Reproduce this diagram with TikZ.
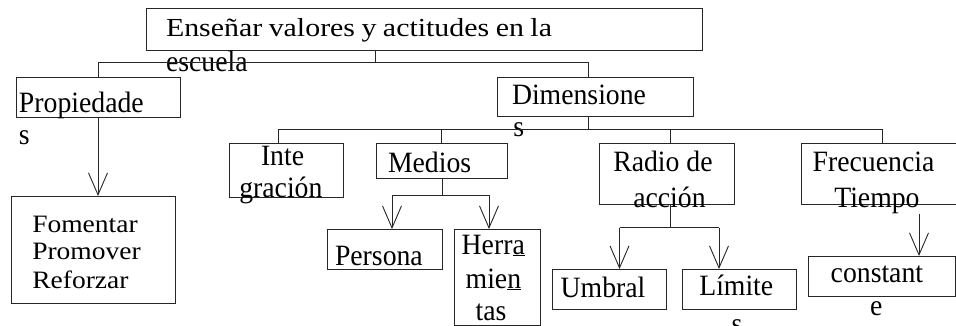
\documentclass[tikz,border=0pt]{standalone}
\usepackage{fontspec}
\setmainfont{Liberation Serif}[FakeStretch=0.94]
\newfontfamily\widefont{Liberation Serif}[FakeStretch=1.1]
\newfontfamily\topfont{Liberation Serif}[FakeStretch=1.15]
\usetikzlibrary{arrows.meta}
\tikzset{
  box/.style={draw=black!85, line width=0.9pt, inner sep=0pt, outer sep=0pt, anchor=north west},
  txt/.style={anchor=base west, inner sep=0pt, outer sep=0pt, font=\fontsize{29.5}{32}\selectfont},
  toptxt/.style={txt, font=\topfont\fontsize{26}{30}\selectfont},
  fomtxt/.style={txt, font=\widefont\fontsize{25}{28}\selectfont},
  conn/.style={draw=black!85, line width=0.9pt},
  arr/.style={conn, -{Straight Barb[length=22pt,width=19pt]}},
}
\begin{document}
\begin{tikzpicture}[x=1pt,y=-1pt]
\useasboundingbox (0,0) rectangle (956,326);
\begin{scope}
\clip (0,0) rectangle (956,326);
% boxes
\node[box, minimum width=556pt, minimum height=42pt] (top) at (146,8) {};
\node[box, minimum width=164pt, minimum height=40pt] (prop) at (16,77) {};
\node[box, minimum width=196pt, minimum height=39pt] (dim) at (497,77) {};
\node[box, minimum width=164pt, minimum height=107pt] (fom) at (11,196) {};
\node[box, minimum width=114pt, minimum height=54pt] (integ) at (229,143) {};
\node[box, minimum width=131pt, minimum height=35pt] (medios) at (376,143) {};
\node[box, minimum width=135pt, minimum height=61pt] (radio) at (599,143) {};
\node[box, minimum width=170pt, minimum height=61pt] (frec) at (801,143) {};
\node[box, minimum width=115pt, minimum height=40pt] (persona) at (327,229) {};
\node[box, minimum width=86pt, minimum height=96pt] (herr) at (454,229) {};
\node[box, minimum width=113.5pt, minimum height=40pt] (umbral) at (552.5,269) {};
\node[box, minimum width=114.5pt, minimum height=40pt] (limites) at (682,269) {};
\node[box, minimum width=147pt, minimum height=40pt] (const) at (808,256) {};
% texts
\node[toptxt] (t1) at (166,36.7) {\makebox[386pt][s]{Enseñar valores y actitudes en la}};
\node[txt] (t2) at (166,71.5) {escuela};
\node[txt] (t3) at (19,112.7) {Propiedade};
\node[txt] (t4) at (19,145) {s};
\node[txt] (t5) at (512,105) {Dimensione};
\node[txt] (t6) at (513.3,136.7) {s};
\node[txt] (t7) at (261,165) {Inte};
\node[txt] (t8) at (239.3,197.3) {gración};
\node[txt] (t9) at (388,172.3) {Medios};
\node[txt] (t10) at (613.3,171.7) {Radio de};
\node[txt] (t11) at (633.3,207.3) {acción};
\node[txt] (t12) at (812.7,171.7) {Frecuencia};
\node[txt] (t13) at (834.3,207.3) {Tiempo};
\node[fomtxt] (t14) at (32.3,232.7) {Fomentar};
\node[fomtxt] (t15) at (32.3,259.3) {Promover};
\node[fomtxt] (t16) at (32.3,288.3) {Reforzar};
\node[txt] (t17) at (335,265) {Persona};
\node[txt] (t18) at (461.7,254) {Herr\underline{a}};
\node[txt] (t19) at (465.7,288) {mie\underline{n}};
\node[txt] (t20) at (475.7,320) {tas};
\node[txt] (t21) at (560.7,297.3) {Umbral};
\node[txt] (t22) at (699.3,295) {Límite};
\node[txt] (t23) at (731.7,333) {s};
\node[txt] (t24) at (830.7,282.7) {constant};
\node[txt] (t25) at (870,315) {e};
% connectors: top level
\coordinate (j0) at (375,62);
\coordinate (jL) at (98,62);
\coordinate (jR) at (588,62);
\draw[conn] (top.south -| j0) -- (j0);
\draw[conn] (prop.north -| jL) -- (jL) -- (jR) -- (dim.north -| jR);
\draw[arr] (prop.south) -- (fom.north -| prop.south);
% second level
\coordinate (k0) at (588,129);
\coordinate (kL) at (278,129);
\coordinate (kR) at (882,129);
\coordinate (kRad) at (670,129);
\draw[conn] (dim.south -| k0) -- (k0);
\draw[conn] (integ.north -| kL) -- (kL) -- (kR) -- (frec.north -| kR);
\draw[conn] (medios.north |- k0) -- (medios.north);
\draw[conn] (kRad) -- (radio.north -| kRad);
% medios
\coordinate (m0) at (442,195);
\coordinate (mL) at (392,195);
\coordinate (mR) at (489,195);
\draw[conn] (medios.south -| m0) -- (m0);
\draw[conn] (mL) -- (mR);
\draw[arr] (mL) -- (persona.north -| mL);
\draw[arr] (mR) -- (herr.north -| mR);
% radio
\coordinate (r0) at (670,227.5);
\coordinate (rL) at (619.5,227.5);
\coordinate (rR) at (719,227.5);
\draw[conn] (radio.south -| r0) -- (r0);
\draw[conn] (rL) -- (rR);
\draw[arr] (rL) -- (umbral.north -| rL);
\draw[arr] (rR) -- (limites.north -| rR);
% frecuencia
\coordinate (f0) at (919,214);
\draw[arr] (f0) -- (const.north -| f0);
\end{scope}
\end{tikzpicture}
\end{document}
